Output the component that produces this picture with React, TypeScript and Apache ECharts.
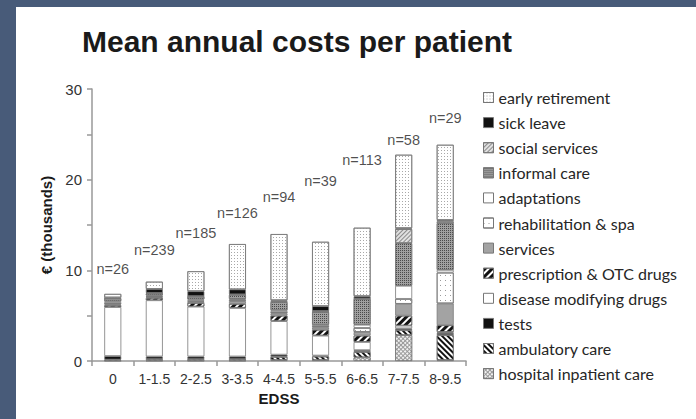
import React, { useEffect, useRef } from "react";
import * as echarts from "echarts";

const categories = ["0", "1-1.5", "2-2.5", "3-3.5", "4-4.5", "5-5.5", "6-6.5", "7-7.5", "8-9.5"];
const sampleSizes = ["n=26", "n=239", "n=185", "n=126", "n=94", "n=39", "n=113", "n=58", "n=29"];
const sampleLabelHeights = [10.1, 12.2, 14.1, 16.3, 18.1, 19.8, 22.2, 24.4, 26.8];

const hospitalInpatientCare = [0.05, 0.05, 0.05, 0.05, 0.1, 0.1, 0.4, 2.85, 0.1];
const ambulatoryCare = [0.1, 0.15, 0.15, 0.15, 0.35, 0.4, 0.6, 0.55, 2.75];
const tests = [0.4, 0.3, 0.3, 0.3, 0.25, 0.1, 0.2, 0.2, 0.25];
const diseaseModifyingDrugs = [5.4, 6.2, 5.5, 5.35, 3.7, 2.2, 0.9, 0.3, 0.1];
const prescriptionOtcDrugs = [0.2, 0.25, 0.4, 0.45, 0.6, 0.65, 0.7, 1.1, 0.75];
const services = [0.1, 0.1, 0.15, 0.3, 0.25, 0.25, 0.4, 1.3, 2.4];
const rehabilitationSpa = [0.15, 0.1, 0.1, 0.15, 0.15, 0.15, 0.45, 0.55, 3.4];
const adaptations = [0.2, 0.1, 0.15, 0.1, 0.2, 0.15, 0.35, 1.45, 0.3];
const informalCare = [0.3, 0.2, 0.3, 0.45, 0.9, 1.4, 2.85, 4.7, 5.15];
const socialServices = [0.05, 0.05, 0.05, 0.05, 0.1, 0.1, 0.05, 1.55, 0.2];
const sickLeave = [0.05, 0.45, 0.55, 0.55, 0.1, 0.55, 0.25, 0.1, 0.15];
const earlyRetirement = [0.4, 0.8, 2.2, 5.0, 7.3, 7.1, 7.55, 8.1, 8.3];

const yTicks = [0, 10, 20, 30];

const dots = (color: string, gap: number) => ({
  symbol: "rect",
  symbolSize: 1,
  color,
  dashArrayX: [1, gap],
  dashArrayY: [1, gap],
  rotation: 0,
});
const stripes = (color: string, w: number, gap: number, rot: number) => ({
  symbol: "rect",
  symbolSize: 1,
  color,
  dashArrayX: [1, 0],
  dashArrayY: [w, gap],
  rotation: rot,
});

const seriesDefs: { name: string; data: number[]; color: string; decal?: any }[] = [
  { name: "hospital inpatient care", data: hospitalInpatientCare, color: "#9a9a9a", decal: { symbol: "rect", symbolSize: 1, color: "#f2f2f2", dashArrayX: [2, 1], dashArrayY: [2, 1], rotation: Math.PI / 4 } },
  { name: "ambulatory care", data: ambulatoryCare, color: "#ffffff", decal: stripes("#111111", 2, 2, Math.PI / 4) },
  { name: "tests", data: tests, color: "#111111" },
  { name: "disease modifying drugs", data: diseaseModifyingDrugs, color: "#ffffff" },
  { name: "prescription & OTC drugs", data: prescriptionOtcDrugs, color: "#ffffff", decal: stripes("#111111", 2.5, 2, -Math.PI / 4) },
  { name: "services", data: services, color: "#a3a3a3" },
  { name: "rehabilitation & spa", data: rehabilitationSpa, color: "#ffffff", decal: dots("#9a9a9a", 4) },
  { name: "adaptations", data: adaptations, color: "#ffffff" },
  { name: "informal care", data: informalCare, color: "#a0a0a0", decal: dots("#4a4a4a", 1) },
  { name: "social services", data: socialServices, color: "#e0e0e0", decal: stripes("#8a8a8a", 1, 1.5, -Math.PI / 4) },
  { name: "sick leave", data: sickLeave, color: "#111111" },
  { name: "early retirement", data: earlyRetirement, color: "#ffffff", decal: dots("#a8a8a8", 2) },
];

export default function App() {
  const ref = useRef<HTMLDivElement>(null);
  useEffect(() => {
    document.body.style.margin = "0";
    const chart = echarts.init(ref.current!, null, { renderer: "svg" });
    const barSeries = seriesDefs.map((s) => ({
      name: s.name,
      type: "bar",
      stack: "total",
      barWidth: 17,
      data: s.data,
      itemStyle: {
        color: s.color,
        borderColor: "#7a7a7a",
        borderWidth: 0.8,
        ...(s.decal ? { decal: s.decal } : {}),
      },
      emphasis: { disabled: true },
    }));
    chart.setOption({
      animation: false,
      backgroundColor: "#485b79",
      graphic: [
        { type: "rect", shape: { x: 16, y: 7, width: 680, height: 412 }, style: { fill: "#ffffff" }, z: -10, silent: true },
      ],
      title: {
        text: "Mean annual costs per patient",
        left: 77,
        top: 21,
        textStyle: { fontFamily: "Liberation Sans", fontSize: 30, fontWeight: "bold", color: "#1a1a1a" },
      },
      legend: {
        orient: "vertical",
        left: 478,
        top: 84,
        icon: "rect",
        itemWidth: 10,
        itemHeight: 10,
        itemGap: 8.1,
        selectedMode: false,
        data: seriesDefs.map((s) => s.name).reverse(),
        itemStyle: { borderColor: "#777777", borderWidth: 1 },
        textStyle: { fontFamily: "Lato", fontSize: 16, lineHeight: 17, color: "#262626" },
      },
      grid: { left: 92, right: 230, top: 89, bottom: 58 },
      xAxis: {
        type: "category",
        data: categories,
        name: "EDSS",
        nameLocation: "middle",
        nameGap: 30,
        nameTextStyle: { fontFamily: "Liberation Sans", fontSize: 15, fontWeight: "bold", color: "#1a1a1a" },
        axisLine: { lineStyle: { color: "#999999", width: 1.5 } },
        axisTick: { show: true, length: 5, alignWithLabel: false, lineStyle: { color: "#999999", width: 1.5 } },
        axisLabel: { margin: 11, fontFamily: "Liberation Sans", fontSize: 14, color: "#333333", interval: 0 },
      },
      yAxis: {
        type: "value",
        min: 0,
        max: 30,
        interval: 5,
        name: "€ (thousands)",
        nameLocation: "middle",
        nameGap: 35,
        nameTextStyle: { fontFamily: "Liberation Sans", fontSize: 15, fontWeight: "bold", color: "#1a1a1a" },
        axisLine: { show: true, lineStyle: { color: "#999999", width: 1.5 } },
        axisTick: { show: true, length: 5, lineStyle: { color: "#999999", width: 1.5 } },
        splitLine: { show: false },
        axisLabel: {
          margin: 10,
          fontFamily: "Liberation Sans",
          fontSize: 15,
          color: "#333333",
          formatter: (v: number) => (yTicks.includes(v) ? String(v) : ""),
        },
      },
      series: [
        ...barSeries,
        {
          name: "sample sizes",
          type: "scatter",
          symbolSize: 0,
          data: categories.map((c, i) => [c, sampleLabelHeights[i]]),
          label: {
            show: true,
            position: "inside",
            formatter: (p: any) => sampleSizes[p.dataIndex],
            fontFamily: "Liberation Sans",
            fontSize: 14.5,
            color: "#1f1f1f",
          },
          silent: true,
          z: 5,
        },
      ],
    });
    return () => chart.dispose();
  }, []);
  return <div ref={ref} style={{ width: 696, height: 419, position: "absolute", left: 0, top: 0 }} />;
}
